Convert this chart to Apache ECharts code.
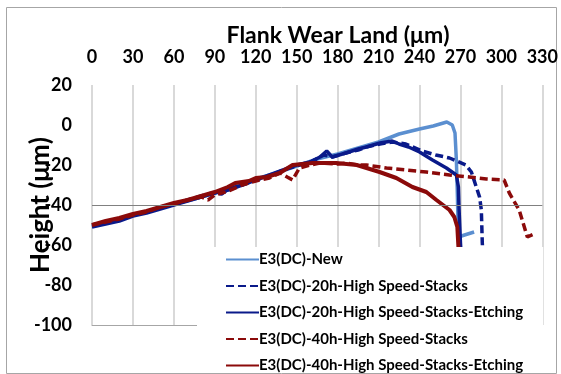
<!DOCTYPE html>
<html>
<head>
<meta charset="utf-8">
<script src="https://cdn.jsdelivr.net/npm/echarts@6/dist/echarts.min.js"></script>
<style>
  html, body { margin: 0; padding: 0; background: #fff; }
  #main { width: 561px; height: 374px; }
</style>
</head>
<body>
<div id="main"></div>
<script>
// x = flank wear land (µm), y = height (µm)
const xTicks = [0, 30, 60, 90, 120, 150, 180, 210, 240, 270, 300, 330];
const yTicks = [20, 0, -20, -40, -60, -80, -100];

const seriesNames = [
  "E3(DC)-New",
  "E3(DC)-20h-High Speed-Stacks",
  "E3(DC)-20h-High Speed-Stacks-Etching",
  "E3(DC)-40h-High Speed-Stacks",
  "E3(DC)-40h-High Speed-Stacks-Etching"
];

const newTool = [[0,-50],[15,-48],[30,-45],[45,-42.5],[60,-39.5],[75,-37],[90,-34],[105,-30.5],[120,-27],
  [135,-24],[150,-20.5],[165,-17],[180,-14.5],[195,-11.5],[210,-8.5],[225,-4.5],[240,-2],[250,-0.5],
  [260,1.5],[264,0],[266,-4],[267,-17.5],[267.7,-34],[268.5,-56],[273,-55],[280,-53.5]];

const stacks20h = [[0,-50.5],[10,-49],[20,-47.5],[30,-45],[40,-43.5],[50,-41.5],[60,-39.5],[70,-37.5],
  [80,-35.5],[88,-34],[95,-34.5],[100,-32],[110,-30],[120,-27.5],[130,-25.5],[140,-22.5],[150,-20.5],
  [160,-18.5],[170,-15],[176,-16],[186,-14],[195,-12.5],[201,-11],[211,-9.5],[220,-8.5],[230,-9.5],
  [242,-13],[252,-15],[262,-16.5],[274,-20],[278,-23.5],[281.6,-31],[284,-36],[285.3,-42.5],[286,-59],[286.5,-65]];

const etching20h = [[0,-51],[10,-49.5],[20,-48],[30,-45.5],[40,-44],[50,-42],[60,-40],[70,-38],[80,-36],
  [90,-34],[100,-32.5],[110,-30],[120,-27.5],[130,-25],[140,-22.5],[150,-20],[160,-18.5],[167,-16],
  [172,-13],[176,-16],[186,-14],[195,-12],[201,-11],[211,-9],[220,-8],[225,-9.5],[232,-11],[240,-13.5],
  [249.5,-17.5],[259.7,-21.5],[267,-25],[268.5,-31],[269,-42.5],[270,-59],[270.5,-65]];

const stacks40h = [[0,-50],[10,-48.5],[20,-47],[30,-45],[40,-43.5],[50,-41],[60,-39.5],[70,-37.5],[80,-36],
  [85,-37.5],[90,-35],[100,-33],[110,-30],[120,-28],[130,-26.5],[138,-24],[143,-26],[147,-27.5],[152,-21.5],
  [160,-20],[167,-19],[180,-19.5],[186.5,-19],[195,-20],[201,-20],[215.8,-21.5],[230,-22.5],[245,-23.5],
  [262,-25],[276.5,-26],[289,-27],[302,-27.5],[305.8,-34],[313,-42.5],[316.8,-51],[319,-56],[324,-54.5]];

const etching40h = [[0,-50],[10,-48],[20,-46.5],[30,-44.5],[40,-43],[50,-41],[60,-39],[70,-37.5],[80,-35.5],
  [90,-33.5],[99.5,-31],[105,-29],[115,-28],[120,-26.5],[128,-26],[137.5,-24],[147,-20],[161.7,-19],
  [179,-19],[194,-20],[210.7,-23.5],[223,-26.5],[234.8,-31],[245,-33.5],[252.4,-37.5],[262,-42.5],
  [265.5,-46],[267.7,-51],[268.5,-61],[269,-65]];

const allData = [newTool, stacks20h, etching20h, stacks40h, etching40h];
const colors = ["#5b8fd0", "#0a1a8a", "#0a1a8a", "#8b0a0a", "#8b0a0a"];
const dashes = ["solid", [8, 4], "solid", [8, 4], "solid"];
const widths = [3.5, 3.5, 3.5, 3.5, 4];

const font = "Lato";
const chart = echarts.init(document.getElementById("main"));

chart.setOption({
  animation: false,
  graphic: [{
    type: "rect",
    shape: { x: 6.5, y: 7.5, width: 550, height: 366 },
    style: { fill: "none", stroke: "#a6a6a6", lineWidth: 1 },
    silent: true
  }],
  title: {
    text: "Flank Wear Land (\u03bcm)",
    left: 333, top: 19, textAlign: "center",
    textStyle: { fontFamily: font, fontWeight: "bold", fontSize: 23, color: "#000" }
  },
  grid: { left: 92, right: 18, top: 85, bottom: 49 },
  legend: {
    orient: "vertical",
    left: 197, top: 247,
    padding: [5, 20, 0, 28],
    backgroundColor: "#fff",
    z: 20,
    itemWidth: 33, itemHeight: 14, itemGap: 11.5,
    itemStyle: { opacity: 0 },
    data: seriesNames,
    textStyle: { fontFamily: font, fontWeight: "bold", fontSize: 15, color: "#000", padding: [0, 0, 0, -5] }
  },
  xAxis: [{
    type: "value", position: "top",
    min: 0, max: 330, interval: 30,
    axisLine: { show: false }, axisTick: { show: false },
    axisLabel: { fontFamily: font, fontWeight: "bold", fontSize: 18, color: "#000", margin: 19 },
    splitLine: { show: true, lineStyle: { color: "#d9d9d9", width: 2 } }
  }, {
    type: "value", position: "bottom",
    min: 0, max: 330, interval: 30,
    axisLine: { show: true, onZero: false, lineStyle: { color: "#a6a6a6", width: 1 } },
    axisTick: { show: false }, axisLabel: { show: false }, splitLine: { show: false }
  }],
  yAxis: {
    type: "value", min: -100, max: 20, interval: 20,
    name: "Height (\u03bcm)", nameLocation: "middle", nameGap: 38,
    nameMoveOverlap: false,
    nameTextStyle: { fontFamily: font, fontWeight: "bold", fontSize: 26, color: "#000" },
    axisLine: { show: false }, axisTick: { show: false },
    axisLabel: { fontFamily: font, fontWeight: "bold", fontSize: 18, color: "#000", margin: 20 },
    splitLine: { show: false }
  },
  series: seriesNames.map((name, i) => ({
    name: name,
    type: "line",
    data: allData[i],
    showSymbol: false,
    symbol: "none",
    color: colors[i],
    lineStyle: { color: colors[i], width: widths[i], type: dashes[i] },
    markLine: i === 0 ? {
      silent: true, symbol: "none", label: { show: false },
      lineStyle: { color: "#808080", width: 1, type: "solid" },
      data: [{ yAxis: -40 }]
    } : undefined
  }))
});
</script>
</body>
</html>
